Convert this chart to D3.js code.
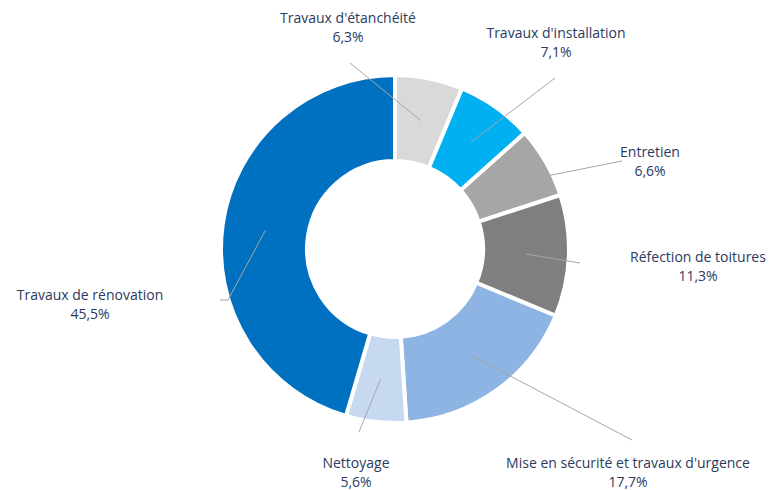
<!DOCTYPE html>
<html><head><meta charset="utf-8">
<script src="https://cdn.jsdelivr.net/npm/d3@7"></script>
<style>body{margin:0;background:#fff}svg{display:block}</style>
</head><body>
<script>
const categories = ["Travaux d'étanchéité","Travaux d'installation","Entretien","Réfection de toitures","Mise en sécurité et travaux d'urgence","Nettoyage","Travaux de rénovation"];
const values = [6.3, 7.1, 6.6, 11.3, 17.7, 5.6, 45.5];
const valueLabels = ["6,3%","7,1%","6,6%","11,3%","17,7%","5,6%","45,5%"];
const colors = ["#d9d9d9","#00b0f0","#a6a6a6","#7f7f7f","#8eb4e3","#c6d9f1","#0070c0"];
// layout: label centre x, first baseline y, leader end points
const labelX = [348, 556, 650, 698, 628, 356, 90];
const labelY = [23, 38, 157, 262, 468, 468, 300];
const leaderEnd = [[[350,63]],[[555,78]],[[622,161]],[[580,263]],[[632,440]],[[359,432]],[[228,300],[220,300]]];

const W=773,H=490,cx=395,cy=249,R=174,r0=88;
const svg=d3.select("body").append("svg").attr("width",W).attr("height",H);
const g=svg.append("g").attr("transform",`translate(${cx},${cy})`);
const pie=d3.pie().sort(null).value(d=>d)(values);
const arc=d3.arc().innerRadius(r0).outerRadius(R);
g.selectAll("path.s").data(pie).join("path").attr("class","s")
 .attr("d",arc).attr("fill",(d,i)=>colors[i]).attr("stroke","#fff").attr("stroke-width",4).attr("stroke-linejoin","miter");
const mid=d3.arc().innerRadius(131).outerRadius(131);
const line=d3.line();
svg.selectAll("path.l").data(pie).join("path").attr("class","l")
 .attr("d",(d,i)=>{const c=mid.centroid(d);return line([[c[0]+cx,c[1]+cy],...leaderEnd[i]]);})
 .attr("fill","none").attr("stroke","#a6a6a6").attr("stroke-width",1);
const t=svg.selectAll("text.lab").data(categories).join("text").attr("class","lab")
 .attr("x",(d,i)=>labelX[i]).attr("y",(d,i)=>labelY[i]).attr("text-anchor","middle")
 .style("font-family","'Open Sans', sans-serif").style("font-size","14px").attr("fill","#2c3a5e");
t.append("tspan").text(d=>d);
t.append("tspan").attr("x",(d,i)=>labelX[i]).attr("dy",19).text((d,i)=>valueLabels[i]);
</script>
</body></html>
